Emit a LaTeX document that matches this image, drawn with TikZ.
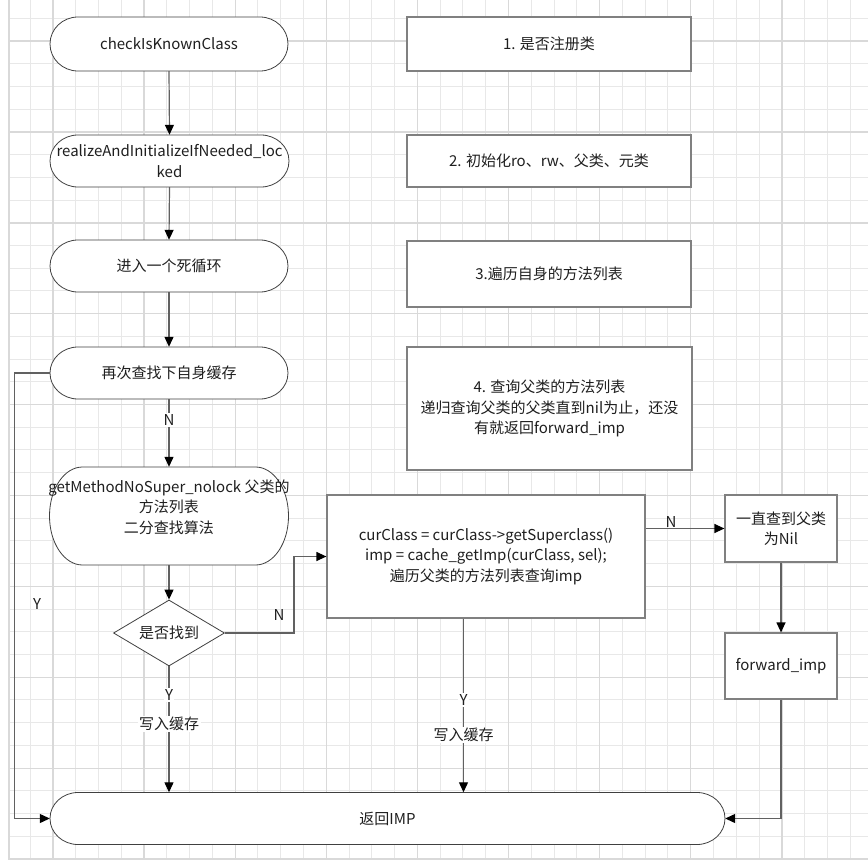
\documentclass[tikz,border=0pt]{standalone}
\usepackage{fontspec}
\setmainfont{Noto Sans CJK SC}
\usetikzlibrary{arrows.meta,calc,shapes.geometric}
\newcommand\stadium[7]{%
  \path[stline] ({#2-#4/2+#6},{-#3+#5/2}) -- ({#2+#4/2-#6},{-#3+#5/2})
    arc[start angle=90,end angle=-90,x radius={#6*1pt},y radius={(#5)/2*1pt}]
    -- ({#2-#4/2+#6},{-#3-#5/2})
    arc[start angle=270,end angle=90,x radius={#6*1pt},y radius={(#5)/2*1pt}] -- cycle;
  \node[txt, minimum width=#4pt, minimum height=#5pt] (#1) at (#2,-#3) {#7};
}
\begin{document}
\begin{tikzpicture}[x=1pt,y=1pt,
  txt/.style={font=\fontsize{15}{20.5}\selectfont, text=black!88, align=center, inner sep=0pt},
  box/.style={txt, draw=black!50, line width=1.2pt, fill=white, rectangle},
  conn/.style={draw=black!62, line width=1.2pt},
  arr/.style={conn, -{Triangle[length=10pt,width=9pt,color=black]}},
  lbl/.style={txt, fill=white, inner sep=1.5pt},
  stline/.style={draw=black!75, line width=0.8pt, fill=white},
  minorg/.style={draw=black!9, line width=1pt},
  majorg/.style={draw=black!15, line width=1.4pt}]
\useasboundingbox (0,0) rectangle (868,-864);
\fill[white] (0,0) rectangle (868,-864);
% grid
\begin{scope}
\clip (9,0) rectangle (868,-859);
\foreach \i in {0,...,37} {
  \draw[minorg] ({30.2+22.775*\i},0) -- ({30.2+22.775*\i},-859);
  \draw[minorg] (9,{-18.3-22.72*\i}) -- (868,{-18.3-22.72*\i});
}
\foreach \i in {0,...,8} {
  \draw[majorg] ({53+91.1*\i},0) -- ({53+91.1*\i},-859);
}
\foreach \i in {0,...,9} {
  \draw[majorg] (9,{-41-90.9*\i}) -- (868,{-41-90.9*\i});
}
\end{scope}
\draw[majorg] (9,0) -- (9,-859) -- (868,-859);

% left column
\stadium{n1}{169}{44}{238}{54}{28}{checkIsKnownClass}
\stadium{n2}{169.5}{161}{239}{52}{28}{realizeAndInitializeIfNeeded\_loc\\ked}
\stadium{n3}{169}{266}{238}{52}{28}{进入一个死循环}
\stadium{n4}{169}{373}{238}{52}{28}{再次查找下自身缓存}
\stadium{n5}{169}{516}{239}{98}{33}{}
\node[txt] (n5t) at (169,-507) {getMethodNoSuper\_nolock 父类的\\方法列表\\二分查找算法};
\node[txt, diamond, aspect=1.7, minimum width=111pt, minimum height=66pt,
      draw=black!75, line width=0.8pt, fill=white] (d) at (169,-633) {是否找到};
\stadium{ret}{387.5}{818.5}{675}{52}{28}{返回IMP}

% right column
\node[box, minimum width=284pt, minimum height=54pt] (b1) at (549,-44) {1. 是否注册类};
\node[box, minimum width=284pt, minimum height=52pt] (b2) at (549,-161) {2. 初始化ro、rw、父类、元类};
\node[box, minimum width=284pt, minimum height=66pt] (b3) at (549,-274) {3.遍历自身的方法列表};
\node[box, minimum width=285pt, minimum height=123pt] (b4) at (549.5,-408.5)
  {4. 查询父类的方法列表\\递归查询父类的父类直到nil为止，还没\\有就返回forward\_imp};

\node[box, minimum width=318pt, minimum height=123pt] (cur) at (486,-556.5)
  {curClass = curClass->getSuperclass()\\imp = cache\_getImp(curClass, sel);\\遍历父类的方法列表查询imp};
\node[box, minimum width=112pt, minimum height=67pt] (nil) at (781,-528.5) {一直查到父类\\为Nil};
\node[box, minimum width=112pt, minimum height=66pt] (fwd) at (781,-666) {forward\_imp};

% connectors
\draw[arr] (n1.south) -- (n2.north);
\draw[arr] (n2.south) -- (n3.north);
\draw[arr] (n3.south) -- (n4.north);
\draw[arr] (n4.south) -- (n5.north);
\node[lbl] at (169,-420) {N};
\draw[arr] (n5.south) -- (d.north);
\draw[arr] (d.south) -- (d.south |- ret.north);
\node[lbl] at (169,-695) {Y};
\node[lbl] at (169,-724) {写入缓存};
\draw[arr] (n4.west) -- ++(-35,0) |- (ret.west);
\node[txt] at (37,-604) {Y};
\draw[arr] (d.east) -- ++(69,0) |- (cur.west);
\node[txt] at (279,-615) {N};
\draw[arr] ([xshift=-22.5pt]cur.south) -- ([xshift=-22.5pt]cur.south |- ret.north);
\node[lbl] at (463.5,-700) {Y};
\node[lbl] at (463.5,-735) {写入缓存};
\draw[arr] (cur.east |- nil.west) -- (nil.west);
\node[txt] at (671,-522) {N};
\draw[arr] (nil.south) -- (fwd.north);
\draw[arr] (fwd.south) |- (ret.east);
\end{tikzpicture}
\end{document}
